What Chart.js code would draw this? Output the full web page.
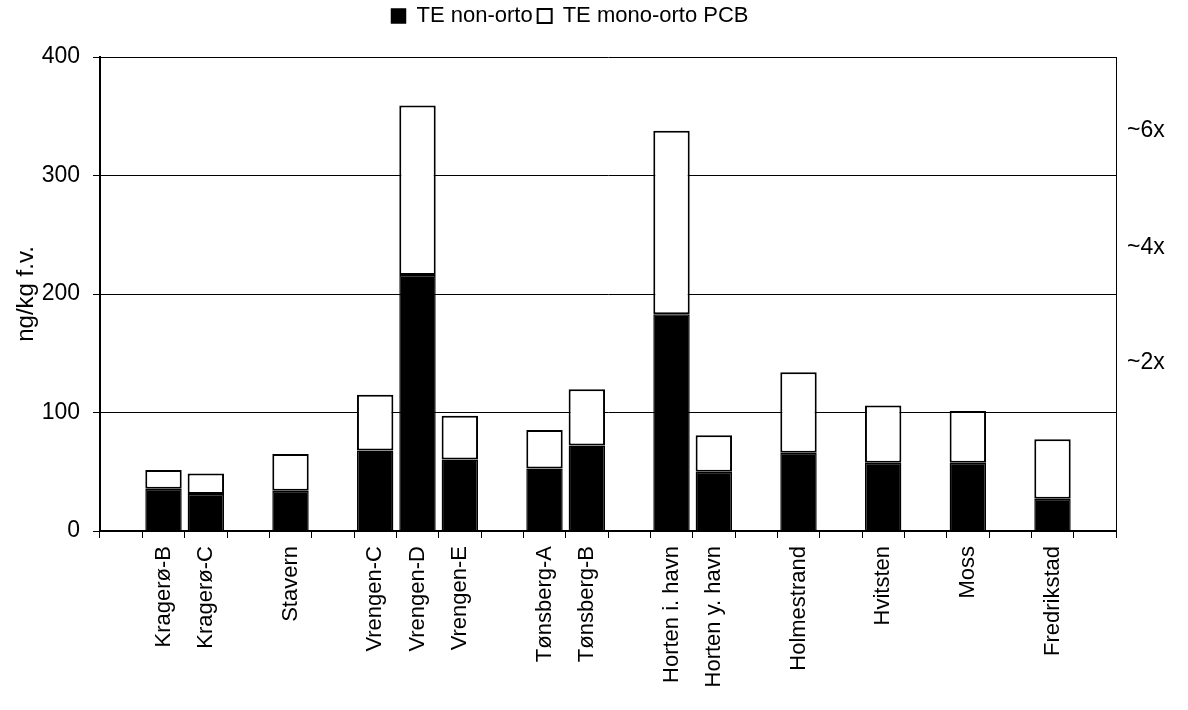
<!DOCTYPE html>
<html>
<head>
<meta charset="utf-8">
<script src="https://cdn.jsdelivr.net/npm/chart.js@4/dist/chart.umd.min.js"></script>
<style>
  body { margin: 0; background: #fff; }
  #wrap { width: 1188px; height: 710px; }
</style>
</head>
<body>
<div id="wrap"><canvas id="teChart" width="1188" height="710"></canvas></div>
<script>
// ── DATA ─────────────────────────────────────────────────────
// empty strings are the gaps between station groups
const stations = ['', 'Kragerø-B', 'Kragerø-C', '', 'Stavern', '', 'Vrengen-C', 'Vrengen-D', 'Vrengen-E', '',
  'Tønsberg-A', 'Tønsberg-B', '', 'Horten i. havn', 'Horten y. havn', '', 'Holmestrand', '', 'Hvitsten', '',
  'Moss', '', 'Fredrikstad', '']
const teNonOrto = [null, 35.7, 31.2, null, 34, null, 68, 216, 60.3, null,
  52.7, 72.2, null, 183, 50, null, 66, null, 57.5, null,
  57.5, null, 27.3, null]
const teMonoOrto = [null, 15.8, 17.4, null, 31, null, 47, 143, 37, null,
  32.5, 47.5, null, 154.7, 30.9, null, 68, null, 48.5, null,
  43.8, null, 50.2, null]
const yTicks = [0, 100, 200, 300, 400]
const factorValues = [142, 239, 338]
const factorLabels = ['~2x', '~4x', '~6x']

Chart.defaults.font.family = "'Liberation Sans', Arial, sans-serif"
Chart.defaults.font.size = 22
Chart.defaults.color = '#000'

// legend: fixed height so the plot top matches, and centred a bit left like the original
const legendTweak = {
  id: 'legendTweak',
  afterInit(chart) {
    const fit = chart.legend.fit
    chart.legend.fit = function () { fit.call(this); this.height = 57 }
  },
  afterLayout(chart) {
    chart.legend.right = chart.width - 48
  }
}

new Chart(document.getElementById('teChart'), {
  type: 'bar',
  data: {
    labels: stations,
    datasets: [
      {
        label: 'TE non-orto',
        data: teNonOrto,
        backgroundColor: '#000',
        borderColor: '#000',
        borderWidth: 1.5,
        barPercentage: 0.86,
        categoryPercentage: 1
      },
      {
        label: 'TE mono-orto PCB',
        data: teMonoOrto,
        backgroundColor: '#fff',
        borderColor: '#000',
        borderWidth: 2,
        borderSkipped: false,
        barPercentage: 0.86,
        categoryPercentage: 1
      }
    ]
  },
  options: {
    responsive: false,
    animation: false,
    plugins: {
      legend: {
        position: 'top',
        labels: { boxWidth: 14, boxHeight: 14, padding: 5, color: '#000' }
      },
      tooltip: { enabled: false }
    },
    scales: {
      x: {
        stacked: true,
        offset: true,
        grid: { offset: true, drawOnChartArea: false, drawTicks: true, tickLength: 7, color: '#000' },
        border: { color: '#000', width: 1.5 },
        ticks: { autoSkip: false, maxRotation: 90, minRotation: 90, padding: 8 },
        afterFit: s => { s.height = 179 }
      },
      y: {
        stacked: true,
        min: 0,
        max: 400,
        afterBuildTicks: s => { s.ticks = yTicks.map(v => ({ value: v })) },
        grid: { color: '#000', tickLength: 7 },
        border: { color: '#000', width: 2 },
        ticks: { padding: 13, font: { size: 23 } },
        title: { display: true, text: 'ng/kg f.v.', font: { size: 24 }, padding: { top: 12, bottom: 0 } },
        afterFit: s => { s.width = 100 }
      },
      y2: {
        position: 'right',
        min: 0,
        max: 400,
        afterBuildTicks: s => { s.ticks = factorValues.map(v => ({ value: v })) },
        grid: { display: false },
        border: { color: '#000', width: 1 },
        ticks: { padding: 3, font: { size: 23 }, callback: (v, i) => factorLabels[i] },
        afterFit: s => { s.width = 72 }
      }
    }
  },
  plugins: [legendTweak]
})
</script>
</body>
</html>
